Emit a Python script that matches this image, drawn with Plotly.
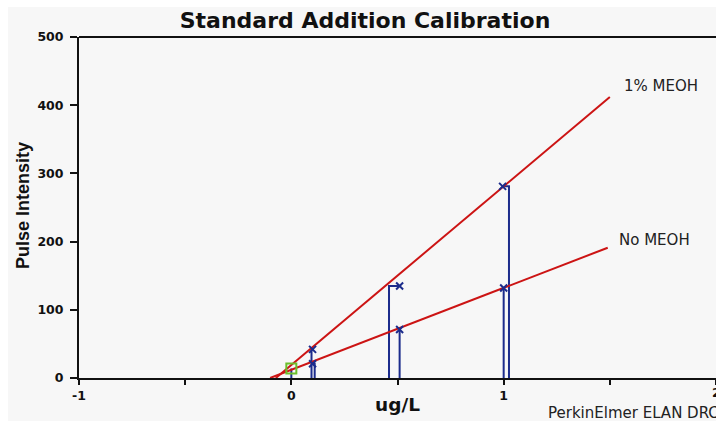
import plotly.graph_objects as go

# ---- data ----
meoh_x = [0.10, 0.51, 0.995]
meoh_y = [42, 135, 281]
meoh_stem_x = [0.095, 0.46, 1.025]

nomeoh_x = [0.10, 0.51, 1.0]
nomeoh_y = [21, 71, 132]
nomeoh_stem_x = [0.11, 0.51, 1.0]

blank_x = [0.0]
blank_y = [14]

meoh_fit_x = [-0.073, 1.5]
meoh_fit_y = [0, 412]
nomeoh_fit_x = [-0.1, 1.49]
nomeoh_fit_y = [0, 191]

x_ticks = [-1, -0.5, 0, 0.5, 1, 1.5, 2]
x_ticklabels = ["-1", "", "0", "", "1", "", "2"]
y_ticks = [0, 100, 200, 300, 400, 500]

RED = "#cc1414"
BLUE = "#1c2c8c"
GREEN = "#6cbf2c"
BG = "#f7f7f7"
INK = "#111111"
WIDE = "DejaVu Sans, Verdana, sans-serif"
NARROW = "Liberation Sans, Arial, sans-serif"


def stems(xm, ym, xs):
    px, py = [], []
    for a, b, s in zip(xm, ym, xs):
        px += [s, s, a, None]
        py += [0, b, b, None]
    return px, py


fig = go.Figure()

# stems
for xm, ym, xs in [(meoh_x, meoh_y, meoh_stem_x), (nomeoh_x, nomeoh_y, nomeoh_stem_x),
                   (blank_x, blank_y, blank_x)]:
    sx, sy = stems(xm, ym, xs)
    fig.add_trace(go.Scatter(x=sx, y=sy, mode="lines", line=dict(color=BLUE, width=2),
                             hoverinfo="skip", showlegend=False))

# fit lines
fig.add_trace(go.Scatter(x=meoh_fit_x, y=meoh_fit_y, mode="lines",
                         line=dict(color=RED, width=2), showlegend=False))
fig.add_trace(go.Scatter(x=nomeoh_fit_x, y=nomeoh_fit_y, mode="lines",
                         line=dict(color=RED, width=2), showlegend=False))

# markers
fig.add_trace(go.Scatter(x=meoh_x + nomeoh_x, y=meoh_y + nomeoh_y, mode="markers",
                         marker=dict(symbol="x-thin", size=7, color=BLUE,
                                     line=dict(color=BLUE, width=2)),
                         showlegend=False))
fig.add_trace(go.Scatter(x=blank_x, y=blank_y, mode="markers",
                         marker=dict(symbol="square-open", size=10, color=GREEN,
                                     line=dict(color=GREEN, width=2)),
                         showlegend=False))

# page pixel geometry (body margin removed, figure fills the window)
W, H = 716, 421
L, R, T, B = 79, 0, 37, 43
pw = W - L - R
ph = H - T - B


def px2paper_x(px):
    return (px - L) / pw


def px2paper_y(py):
    return (H - B - py) / ph


tickfont = dict(size=12.5, family=WIDE, color=INK, weight="bold")

# the last x tick label sits on the right edge of the picture; draw it as an
# annotation at the tick position so it is kept (half visible, as in the original)
last_tick = x_ticks[-1]
shown_ticktext = x_ticklabels[:-1] + [""]

fig.update_layout(
    width=W, height=H,
    margin=dict(l=L, r=R, t=T, b=B, pad=0),
    paper_bgcolor=BG, plot_bgcolor=BG,
    font=dict(family=WIDE, color=INK),
    title=dict(text="<b>Standard Addition Calibration</b>", x=365 / W, xanchor="center",
               y=1 - 20 / H, yanchor="middle", yref="container", xref="container",
               font=dict(size=22, family=WIDE, color=INK)),
    xaxis=dict(range=[-1, 2], tickvals=x_ticks, ticktext=shown_ticktext, ticks="outside",
               ticklen=5, tickwidth=2, tickcolor=INK, showgrid=False, zeroline=False,
               showline=True, linecolor=INK, linewidth=2, tickfont=tickfont,
               automargin=False),
    yaxis=dict(range=[0, 500], tickvals=y_ticks, ticks="outside", ticklen=7, tickwidth=2,
               tickcolor=INK, showgrid=False, zeroline=False, showline=True,
               linecolor=INK, linewidth=2, tickfont=tickfont, ticklabelstandoff=4,
               automargin=False),
    annotations=[
        dict(text="<b>%s</b>" % x_ticklabels[-1], x=last_tick, y=px2paper_y(392),
             xref="x", yref="paper", showarrow=False, xanchor="center", yanchor="middle",
             font=dict(size=12.5, family=WIDE, color=INK)),
        dict(text="<b>Pulse Intensity</b>", x=px2paper_x(23), y=px2paper_y(205),
             xref="paper", yref="paper", showarrow=False, textangle=-90,
             xanchor="center", yanchor="middle",
             font=dict(size=18, family=NARROW, color=INK)),
        dict(text="1% MEOH", x=1.558, y=428, xref="x", yref="y", showarrow=False,
             xanchor="left", yanchor="middle", font=dict(size=15, family=WIDE, color="#222222")),
        dict(text="No MEOH", x=1.534, y=202, xref="x", yref="y", showarrow=False,
             xanchor="left", yanchor="middle", font=dict(size=15, family=WIDE, color="#222222")),
        dict(text="<b>ug/L</b>", x=px2paper_x(397.5), y=px2paper_y(404), xref="paper",
             yref="paper", showarrow=False, xanchor="center", yanchor="middle",
             font=dict(size=18.5, family=WIDE, color=INK)),
        dict(text="PerkinElmer ELAN DRC", x=px2paper_x(546), y=px2paper_y(413), xref="paper",
             yref="paper", showarrow=False, xanchor="left", yanchor="middle",
             font=dict(size=15, family=WIDE, color="#222222")),
    ],
    shapes=[
        # top frame line at y=500
        dict(type="line", xref="paper", yref="paper", x0=0, x1=1, y0=1, y1=1,
             line=dict(color=INK, width=2)),
        # white frame on the left and top of the picture
        dict(type="rect", xref="paper", yref="paper", x0=px2paper_x(0), x1=px2paper_x(8),
             y0=px2paper_y(H), y1=px2paper_y(0), fillcolor="white", line=dict(width=0),
             layer="below"),
        dict(type="rect", xref="paper", yref="paper", x0=px2paper_x(0), x1=px2paper_x(W),
             y0=px2paper_y(7), y1=px2paper_y(0), fillcolor="white", line=dict(width=0),
             layer="below"),
    ],
)

fig.write_html(
    "out.html",
    config={"displayModeBar": False},
    post_script="document.body.style.margin='0';"
                "document.documentElement.style.overflow='hidden';"
                "document.body.style.overflow='hidden';",
)
